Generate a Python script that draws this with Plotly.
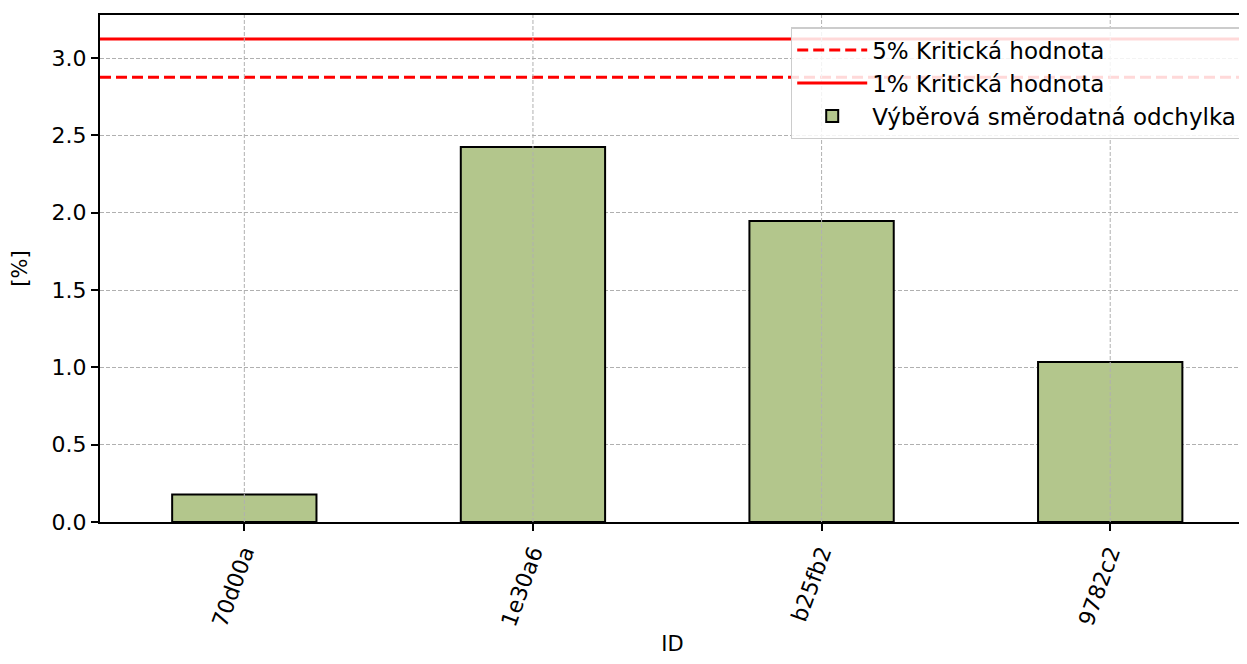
import plotly.graph_objects as go

ids = ["70d00a", "1e30a6", "b25fb2", "9782c2"]
odchylka = [0.177, 2.425, 1.946, 1.035]
krit_5 = 2.875
krit_1 = 3.123

font = dict(family="DejaVu Sans", size=23, color="black")
pos = list(range(len(ids)))
x_lo, x_hi = -0.5, len(ids) - 0.5

fig = go.Figure()
fig.add_trace(go.Scatter(x=[x_lo, x_hi], y=[krit_5, krit_5], mode="lines",
                         name="5% Kritická hodnota", legendgroup="a",
                         line=dict(color="red", width=3, dash="11px,5px")))
fig.add_trace(go.Scatter(x=[x_lo, x_hi], y=[krit_1, krit_1], mode="lines",
                         name="1% Kritická hodnota", legendgroup="b",
                         line=dict(color="red", width=3)))
fig.add_trace(go.Bar(x=pos, y=odchylka, width=0.5, name="Výběrová směrodatná odchylka",
                     legendgroup="c",
                     marker=dict(color="#b3c68c", line=dict(color="black", width=2))))

# vertical grid drawn over bars, like the original
for p in pos:
    fig.add_shape(type="line", x0=p, x1=p, y0=0, y1=1, yref="paper", layer="above",
                  line=dict(color="#b0b0b0", width=1, dash="4px,2px"))

# page body adds 8px offset, so the figure is kept inside the window
fig.update_layout(
    width=1239, height=648,
    margin=dict(l=92, r=0, t=7, b=134),
    plot_bgcolor="white", paper_bgcolor="white",
    font=font,
    showlegend=True,
    legend=dict(x=0.998, y=0.976, xanchor="right", yanchor="top",
                bgcolor="rgba(255,255,255,0.85)", bordercolor="#cccccc", borderwidth=1.5,
                traceorder="normal", font=font, itemwidth=70, tracegroupgap=6),
)
fig.update_xaxes(range=[x_lo, 3.467], tickvals=pos, ticktext=ids, tickangle=-70,
                 tickfont=dict(size=22),
                 showgrid=False, showline=True, linecolor="black", linewidth=2,
                 ticks="outside", ticklen=7, tickwidth=2, tickcolor="black",
                 title=dict(text="ID", standoff=8, font=dict(size=21)), mirror=True, zeroline=False)
fig.update_yaxes(range=[0, 3.278], dtick=0.5, tickformat=".1f", tickfont=dict(size=22),
                 showgrid=True, gridcolor="#b0b0b0", griddash="4px,2px", gridwidth=1,
                 showline=True, linecolor="black", linewidth=2, mirror=True,
                 ticks="outside", ticklen=7, tickwidth=2, tickcolor="black",
                 title=dict(text="[%]", standoff=18, font=dict(size=21)), zeroline=False)

fig.write_html("out.html")
